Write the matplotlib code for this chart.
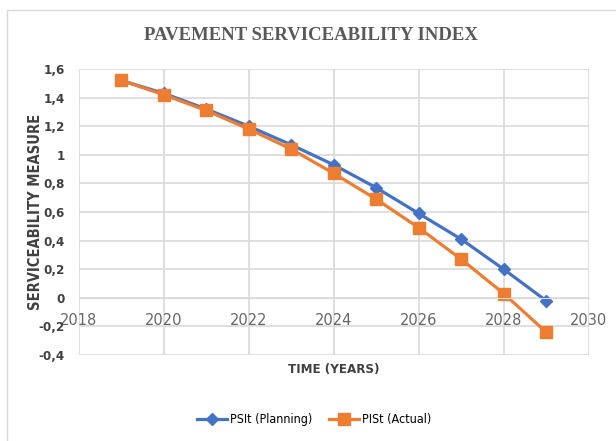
import matplotlib
matplotlib.use('Agg')
from matplotlib import pyplot as plt
from matplotlib.patches import Rectangle

# data
years = [2019, 2020, 2021, 2022, 2023, 2024, 2025, 2026, 2027, 2028, 2029]
psi_planning = [1.52, 1.43, 1.32, 1.20, 1.07, 0.93, 0.77, 0.59, 0.41, 0.20, -0.02]
psi_actual = [1.52, 1.42, 1.31, 1.18, 1.04, 0.87, 0.69, 0.49, 0.27, 0.03, -0.24]
x_ticks = [2018, 2020, 2022, 2024, 2026, 2028, 2030]
y_ticks = [-0.4, -0.2, 0, 0.2, 0.4, 0.6, 0.8, 1.0, 1.2, 1.4, 1.6]
y_tick_labels = ['-0,4', '-0,2', '0', '0,2', '0,4', '0,6', '0,8', '1', '1,2', '1,4', '1,6']

cond = dict(family='DejaVu Sans', stretch='condensed')

fig = plt.figure(figsize=(6.16, 4.41), dpi=100)
ax = fig.add_axes([0.128, 0.195, 0.8275, 0.6485])

# chart border
fig.patches.append(Rectangle((0.011, -0.01), 1.0, 0.988, transform=fig.transFigure,
                             fill=False, edgecolor='#d9d9d9', linewidth=1))

ax.plot(years, psi_planning, color='#4472C4', marker='D', markersize=6,
        linewidth=2.3, label='PSIt (Planning)')
ax.plot(years, psi_actual, color='#ED7D31', marker='s', markersize=8,
        linewidth=2.3, label='PISt (Actual)')

ax.set_xlim(2018, 2030)
ax.set_ylim(-0.4, 1.6)
ax.set_xticks(x_ticks)
ax.set_yticks(y_ticks)
ax.set_yticklabels(y_tick_labels)

ax.grid(True, color='#d9d9d9', linewidth=1.2)
ax.set_axisbelow(True)
for s in ['top', 'right', 'left']:
    ax.spines[s].set_visible(False)
ax.spines['bottom'].set_position(('data', 0))
ax.spines['bottom'].set_color('#d9d9d9')
ax.tick_params(length=0)

for lab in ax.get_xticklabels():
    lab.set_fontsize(10.5)
    lab.set_color('#666666')
for lab in ax.get_yticklabels():
    lab.set_fontproperties(dict(cond, weight='bold', size=9.5))
    lab.set_color('#404040')
ax.tick_params(axis='x', pad=11)
ax.tick_params(axis='y', pad=10)

fig.text(0.505, 0.92, 'PAVEMENT SERVICEABILITY INDEX', ha='center', va='center',
         family='Liberation Serif', fontweight='bold', fontsize=13.5, color='#595959')
fig.text(0.541, 0.161, 'TIME (YEARS)', ha='center', va='center',
         fontweight='bold', fontsize=9.5, color='#404040', **cond)
fig.text(0.057, 0.52, 'SERVICEABILITY MEASURE', ha='center', va='center', rotation=90,
         fontweight='bold', fontsize=10.5, color='#404040', **cond)

fig.legend(loc='center', bbox_to_anchor=(0.51, 0.048), ncol=2, frameon=False,
           prop=dict(cond, size=9), handlelength=2.4, columnspacing=1.4,
           handletextpad=0.2)

fig.savefig('out.png', dpi=100)
